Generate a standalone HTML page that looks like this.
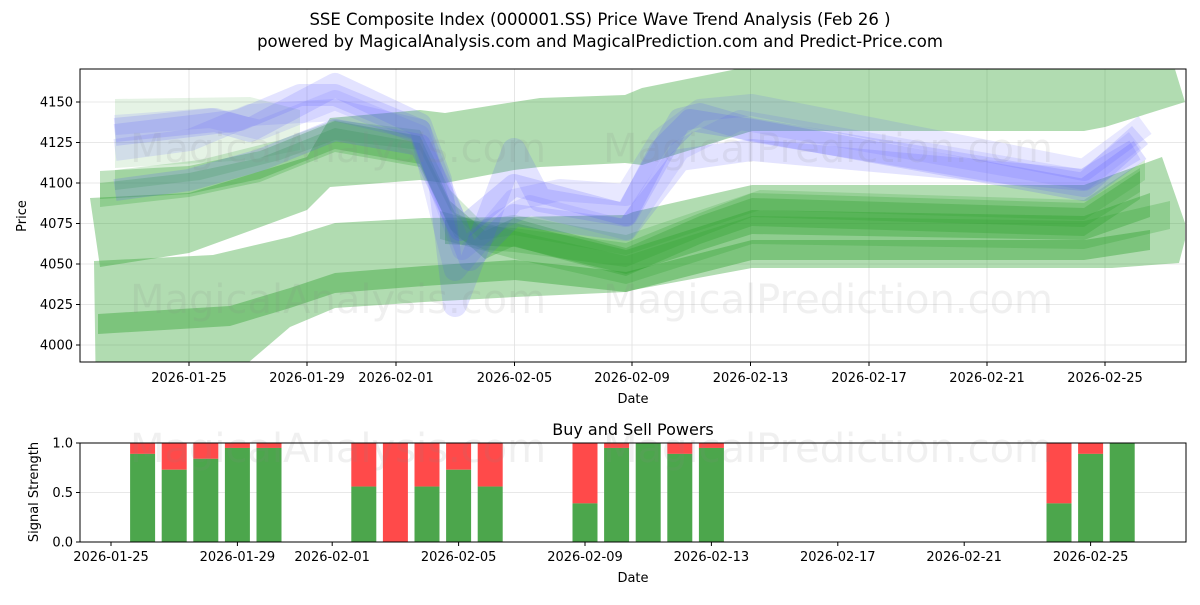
<!DOCTYPE html>
<html><head><meta charset="utf-8"><style>
body{margin:0;background:#fff;}
svg text{font-family:"DejaVu Sans","Liberation Sans",sans-serif;}
</style></head><body>
<svg id="s" width="1200" height="600" xmlns="http://www.w3.org/2000/svg">
<defs>
<clipPath id="c1"><rect x="80" y="69" width="1106" height="293"/></clipPath>
<clipPath id="c2"><rect x="80" y="443" width="1106" height="99"/></clipPath>
</defs>
<rect width="1200" height="600" fill="#fff"/>
<text x="600" y="25" font-size="16.5" text-anchor="middle">SSE Composite Index (000001.SS) Price Wave Trend Analysis (Feb 26 )</text>
<text x="600" y="47" font-size="16.5" text-anchor="middle">powered by MagicalAnalysis.com and MagicalPrediction.com and Predict-Price.com</text>
<g id="grid1" stroke="#e0e0e0" stroke-width="0.8"></g>
<g id="bands" clip-path="url(#c1)"></g>
<g fill="#888" opacity="0.12" font-size="40">
<text x="130" y="162">MagicalAnalysis.com</text>
<text x="603" y="162">MagicalPrediction.com</text>
<text x="130" y="313">MagicalAnalysis.com</text>
<text x="603" y="313">MagicalPrediction.com</text>
</g>
<rect x="80" y="69" width="1106" height="293" fill="none" stroke="#000" stroke-width="1"/>
<g id="ax1" font-size="13"></g>
<text x="633" y="403" font-size="13" text-anchor="middle">Date</text>
<text x="26" y="216" font-size="13" text-anchor="middle" transform="rotate(-90 26 216)">Price</text>

<text x="633" y="435" font-size="16" text-anchor="middle">Buy and Sell Powers</text>
<g id="grid2" stroke="#e0e0e0" stroke-width="0.8"></g>
<g id="bars" clip-path="url(#c2)"></g>
<g fill="#888" opacity="0.12" font-size="40">
<text x="130" y="462">MagicalAnalysis.com</text>
<text x="603" y="462">MagicalPrediction.com</text>
</g>
<rect x="80" y="443" width="1106" height="99" fill="none" stroke="#000" stroke-width="1"/>
<g id="ax2" font-size="13"></g>
<text x="633" y="582" font-size="13" text-anchor="middle">Date</text>
<text x="38" y="492" font-size="13" text-anchor="middle" transform="rotate(-90 38 492)">Signal Strength</text>
</svg>
<script>
var NS="http://www.w3.org/2000/svg";
function el(p,t,a,txt){var e=document.createElementNS(NS,t);for(var k in a)e.setAttribute(k,a[k]);if(txt!=null)e.textContent=txt;document.getElementById(p).appendChild(e);return e;}
var yt=[[4150,102],[4125,142.5],[4100,183],[4075,223.5],[4050,264],[4025,304.5],[4000,345]];
yt.forEach(function(t){el('grid1','line',{x1:80,x2:1186,y1:t[1],y2:t[1]});
el('ax1','line',{x1:76,x2:80,y1:t[1],y2:t[1],stroke:'#000'});
el('ax1','text',{x:73,y:t[1]+4.5,'text-anchor':'end'},t[0]);});
var xl=[["2026-01-25",189],["2026-01-29",307],["2026-02-01",396],["2026-02-05",514.5],["2026-02-09",632],["2026-02-13",750.5],["2026-02-17",869],["2026-02-21",987],["2026-02-25",1105]];
xl.forEach(function(t){el('grid1','line',{x1:t[1],x2:t[1],y1:69,y2:362});
el('ax1','line',{x1:t[1],x2:t[1],y1:362,y2:366,stroke:'#000'});
el('ax1','text',{x:t[1],y:382,'text-anchor':'middle'},t[0]);});
function poly(top,bot,fill,op){var pts=top.concat(bot.slice().reverse());
el('bands','polygon',{points:pts.map(function(p){return p.join(',')}).join(' '),fill:fill,'fill-opacity':op});}
function band(c,hw,fill,op){var t=[],b=[];c.forEach(function(p){t.push([p[0],p[1]-hw]);b.push([p[0],p[1]+hw]);});poly(t,b,fill,op);}
function tube(c,w,col,op){el('bands','polyline',{points:c.map(function(p){return p.join(',')}).join(' '),fill:'none',stroke:col,'stroke-width':w,'stroke-opacity':op,'stroke-linejoin':'round','stroke-linecap':'butt'});}
var G='rgb(44,160,44)',B='rgb(80,80,255)';
poly([[115,99],[250,97],[300,110]],[[115,168],[250,160],[300,150]],G,0.12);
poly([[90,198],[189,193],[307,157],[330,118],[420,110],[445,113],[514,102],[540,98],[625,95],[642,88],[752,66],[1174,66],[1185,102]],
[[100,267],[189,253],[307,210],[330,187],[420,180],[445,183],[514,170],[540,167],[625,163],[642,165],[752,131],[1084,131],[1105,127],[1185,102]],G,0.37);
poly([[94,261],[213,255],[290,237],[335,223],[424,218],[515,217],[626,215],[633,212],[752,185],[1084,185],[1162,157],[1185,223]],
[[96,400],[228,380],[290,327],[335,308],[424,302],[515,297],[626,292],[633,290],[752,268],[1112,268],[1179,263],[1185,240]],G,0.37);
band([[98,324],[230,316],[290,298],[335,283],[424,276],[515,270],[626,282],[752,250],[1084,250],[1150,240]],10,G,0.4);
band([[445,232],[515,235],[626,262],[752,222],[1084,228],[1150,205]],12,G,0.35);
band([[440,225],[515,245],[626,270],[752,230],[1084,235],[1170,215]],14,G,0.25);
band([[100,185],[189,180],[260,165],[335,135],[420,150],[450,215],[485,245],[514,232],[560,245],[626,262],[700,230],[752,212],[1084,222],[1140,185]],14,G,0.3);
band([[100,195],[189,185],[260,170],[335,140],[420,155],[455,225],[485,238],[514,240],[626,255],[700,225],[752,205],[1084,215],[1140,180]],12,G,0.25);
band([[115,180],[200,170],[280,150],[335,130],[420,140],[450,200],[480,230],[514,225],[626,245],[760,200],[1084,210],[1145,170]],10,G,0.2);
tube([[115,130],[215,120],[250,130],[335,85],[420,125],[440,180],[455,305],[480,240],[514,150],[540,200],[626,215],[680,120],[700,115],[752,130],[1084,185],[1140,135]],24,B,0.16);
tube([[115,190],[189,180],[260,160],[335,130],[420,145],[460,230],[514,185],[626,215],[660,150],[690,120],[752,130],[1084,190],[1140,150]],22,B,0.18);
tube([[115,135],[200,125],[240,120],[300,95],[335,95],[420,130],[470,260],[514,215],[626,230],[680,160],[752,150],[1084,180],[1135,150]],22,B,0.16);
tube([[115,150],[190,140],[250,115],[335,110],[420,130],[455,270],[514,200],[560,190],[626,195],[660,140],[700,110],[752,105],[1084,170],[1145,125]],22,B,0.13);
tube([[115,125],[210,118],[260,130],[335,100],[420,135],[462,250],[500,220],[530,205],[626,230],[680,150],[740,120],[1084,180],[1135,140]],20,B,0.12);
[[1,443],[0.5,492.5],[0,542]].forEach(function(t){el('grid2','line',{x1:80,x2:1186,y1:t[1],y2:t[1]});
el('ax2','line',{x1:76,x2:80,y1:t[1],y2:t[1],stroke:'#000'});
el('ax2','text',{x:73,y:t[1]+4.5,'text-anchor':'end'},t[0].toFixed(1));});
var d2=["2026-01-25","2026-01-29","2026-02-01","2026-02-05","2026-02-09","2026-02-13","2026-02-17","2026-02-21","2026-02-25"],dd=[0,4,7,11,15,19,23,27,31];
d2.forEach(function(s,i){var x=111+31.6*dd[i];
el('ax2','line',{x1:x,x2:x,y1:542,y2:546,stroke:'#000'});
el('ax2','text',{x:x,y:561,'text-anchor':'middle'},s);});
var bars=[[1,.89],[2,.73],[3,.84],[4,.95],[5,.95],[8,.56],[9,0],[10,.56],[11,.73],[12,.56],[15,.39],[16,.95],[17,1],[18,.89],[19,.95],[30,.39],[31,.89],[32,1]];
bars.forEach(function(b){var x=111+31.6*b[0]-12.5,yg=443+(1-b[1])*99;
el('bars','rect',{x:x,y:443,width:25,height:yg-443,fill:'#ff4a4a'});
el('bars','rect',{x:x,y:yg,width:25,height:542-yg,fill:'#4ca64c'});});
</script>
</body></html>
